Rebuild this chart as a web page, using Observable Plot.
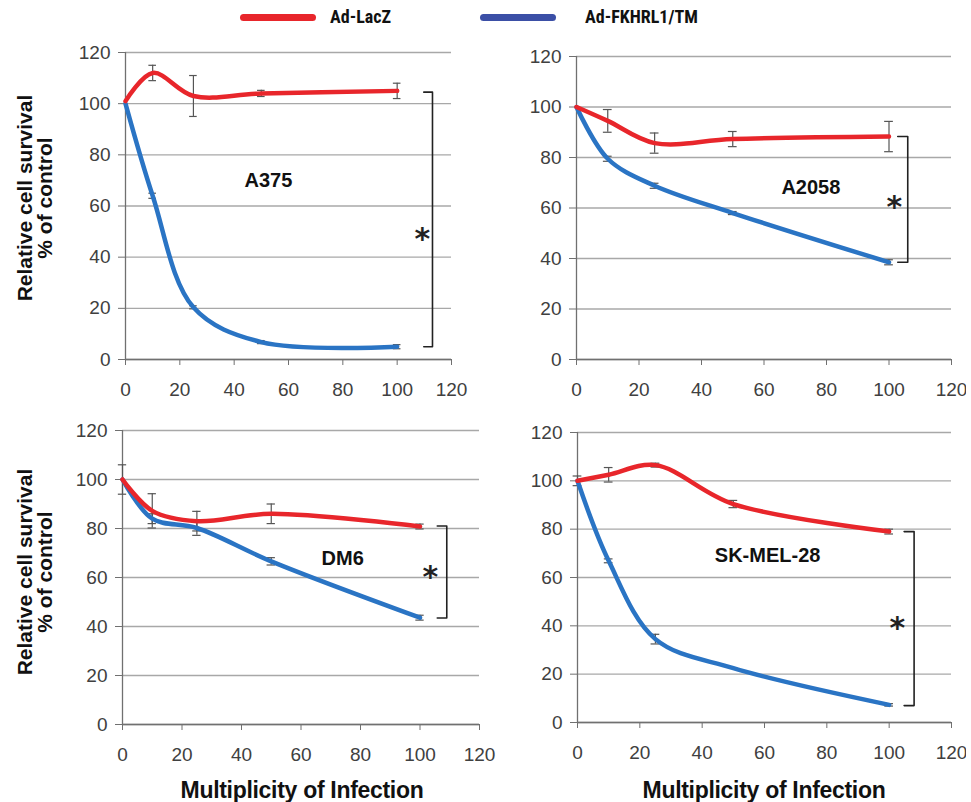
<!DOCTYPE html>
<html><head><meta charset="utf-8">
<script src="https://cdn.jsdelivr.net/npm/d3@7"></script>
<script src="https://cdn.jsdelivr.net/npm/@observablehq/plot@0.6"></script>
<style>
body{margin:0;background:#fff;font-family:"Liberation Sans",Arial,sans-serif;}
#wrap{position:relative;width:971px;height:802px;overflow:hidden;}
.pan{position:absolute;}
.lab{position:absolute;font-weight:bold;font-size:23px;color:#111;white-space:nowrap;letter-spacing:-0.3px;}
.ylab{position:absolute;font-weight:bold;font-size:21px;color:#111;white-space:nowrap;transform:translate(-50%,-50%) rotate(-90deg);text-align:center;line-height:20px;}
.leg{position:absolute;font-weight:bold;font-size:18px;font-family:"Liberation Sans Narrow","Roboto Condensed",Roboto,sans-serif;color:#111;}
.sw{position:absolute;height:7px;border-radius:4px;}
</style></head><body>
<div id="wrap"></div>
<script>
// ---- data ----
const moi = [0, 10, 25, 50, 100];
const xTicks = [0, 20, 40, 60, 80, 100, 120];
const yTicks = [0, 20, 40, 60, 80, 100, 120];
const seriesNames = ["Ad-LacZ", "Ad-FKHRL1/TM"];
const seriesColors = ["#e8262b", "#2a74c4"];
const legendColors = ["#e8262b", "#3b4fa6"];

const panelNames = ["A375", "A2058", "DM6", "SK-MEL-28"];

const a375LacZ = [101, 112, 103, 104, 105];
const a375LacZErr = [0, 3, 8, 1.2, 3];
const a375Fkhr = [100, 64, 20.4, 6.8, 5];
const a375FkhrErr = [0, 1, 0.6, 0.6, 0.8];

const a2058LacZ = [100, 94.5, 85.7, 87.3, 88.3];
const a2058LacZErr = [0, 4.5, 4, 3, 6];
const a2058Fkhr = [100, 79.5, 68.8, 58, 38.5];
const a2058FkhrErr = [0, 1, 1, 0.6, 1];

const dm6LacZ = [100, 87.2, 83, 86, 80.8];
const dm6LacZErr = [6, 7, 4, 4, 1];
const dm6Fkhr = [100, 84, 80.2, 66.6, 43.6];
const dm6FkhrErr = [0, 2, 3, 1.5, 1];

const skLacZ = [100, 102.5, 106.5, 90.4, 79];
const skLacZErr = [2, 3, 0.8, 1.5, 1];
const skFkhr = [100, 66.9, 34.5, 22.5, 7.3];
const skFkhrErr = [0, 0.8, 2, 0, 0.5];

// label positions (data units): [x, y]
const labelPos = [[52.6, 70], [75, 68], [74, 67.6], [61, 69]];
// bracket: [x, top, bottom]
const brackets = [[113, 104.5, 5], [106, 88.3, 38.5], [109, 81, 43.5], [108, 79, 7]];
const starPos = [[109.3, 50.4], [101.7, 63.8], [103.5, 63.7], [102.6, 42.8]];

// ---- layout ----
const layouts = [
  {left: 60, top: 40, width: 411, height: 364, ml: 65, mr: 20, mt: 12, mb: 45},
  {left: 520, top: 40, width: 446, height: 364, ml: 56, mr: 15, mt: 16, mb: 45},
  {left: 60, top: 410, width: 439, height: 359, ml: 62, mr: 20, mt: 20, mb: 45},
  {left: 520, top: 410, width: 446, height: 357, ml: 57, mr: 15, mt: 22, mb: 45}
];

const lacZs = [a375LacZ, a2058LacZ, dm6LacZ, skLacZ];
const lacZErrs = [a375LacZErr, a2058LacZErr, dm6LacZErr, skLacZErr];
const fkhrs = [a375Fkhr, a2058Fkhr, dm6Fkhr, skFkhr];
const fkhrErrs = [a375FkhrErr, a2058FkhrErr, dm6FkhrErr, skFkhrErr];

const wrap = document.getElementById("wrap");

panelNames.forEach((name, i) => {
  const L = layouts[i];
  const rows = [];
  [lacZs[i], fkhrs[i]].forEach((vals, s) => {
    const errs = s === 0 ? lacZErrs[i] : fkhrErrs[i];
    vals.forEach((v, k) => rows.push({series: seriesNames[s], x: moi[k], y: v, e: errs[k]}));
  });
  const redRows = rows.filter(d => d.series === seriesNames[0]);
  const blueRows = rows.filter(d => d.series === seriesNames[1]);
  const errRows = rows.filter(d => d.e > 0);
  const capW = 1.4;
  const [bx, bt, bb] = brackets[i];
  const arm = 3.2;
  const bracketPts = [{x: bx - arm, y: bt}, {x: bx, y: bt}, {x: bx, y: bb}, {x: bx - arm, y: bb}];

  const chart = Plot.plot({
    width: L.width, height: L.height,
    marginLeft: L.ml, marginRight: L.mr, marginTop: L.mt, marginBottom: L.mb,
    style: {fontFamily: "'Liberation Sans', Arial, sans-serif", fontSize: "19px", color: "#404040", background: "transparent"},
    x: {domain: [0, 120], label: null},
    y: {domain: [0, 120], label: null},
    color: {domain: seriesNames, range: seriesColors},
    marks: [
      Plot.gridY(yTicks, {stroke: "#a8a8a8", strokeOpacity: 1, strokeWidth: 1.3}),
      Plot.ruleX([0], {y1: 0, y2: 120, stroke: "#707070", strokeWidth: 1.3}),
      Plot.ruleY([0], {x1: 0, x2: 120, stroke: "#707070", strokeWidth: 1.3}),
      Plot.axisY({ticks: yTicks, tickSize: 7, tickPadding: 8, stroke: "#707070", label: null, fill: "#404040"}),
      Plot.axisX({ticks: xTicks, tickSize: 6, tickPadding: 17, stroke: "#707070", label: null, fill: "#404040"}),
      Plot.ruleX(errRows, {x: "x", y1: d => d.y - d.e, y2: d => d.y + d.e, stroke: "#555", strokeWidth: 1.2}),
      Plot.ruleY(errRows, {y: d => d.y - d.e, x1: d => d.x - capW, x2: d => d.x + capW, stroke: "#555", strokeWidth: 1.2}),
      Plot.ruleY(errRows, {y: d => d.y + d.e, x1: d => d.x - capW, x2: d => d.x + capW, stroke: "#555", strokeWidth: 1.2}),
      Plot.line(blueRows, {x: "x", y: "y", stroke: "series", strokeWidth: 4.5, curve: "catmull-rom"}),
      Plot.line(redRows, {x: "x", y: "y", stroke: "series", strokeWidth: 4.5, curve: "catmull-rom"}),
      Plot.line(bracketPts, {x: "x", y: "y", stroke: "#222", strokeWidth: 1.6, curve: "linear"}),
      Plot.text([name], {x: labelPos[i][0], y: labelPos[i][1], text: d => d, fontWeight: "bold", fontSize: 20, fill: "#111"}),
      Plot.text(["*"], {x: starPos[i][0], y: starPos[i][1], text: d => d, fontWeight: "bold", fontSize: 30, fontFamily: "DejaVu Sans", fill: "#222", dy: 9})
    ]
  });
  const div = document.createElement("div");
  div.className = "pan";
  div.style.left = L.left + "px";
  div.style.top = L.top + "px";
  div.appendChild(chart);
  wrap.appendChild(div);
});

// y-axis labels
[[35, 198], [35, 572]].forEach(([x, y]) => {
  const d = document.createElement("div");
  d.className = "ylab";
  d.style.left = x + "px"; d.style.top = y + "px";
  d.innerHTML = "Relative cell survival<br>% of control";
  wrap.appendChild(d);
});
// x-axis labels
[[302, 790], [764, 790]].forEach(([x, y]) => {
  const d = document.createElement("div");
  d.className = "lab";
  d.style.left = x + "px"; d.style.top = y + "px";
  d.style.transform = "translate(-50%,-50%)";
  d.textContent = "Multiplicity of Infection";
  wrap.appendChild(d);
});
// legend
[[240, 330], [480, 585]].forEach(([sx, tx], s) => {
  const sw = document.createElement("div");
  sw.className = "sw";
  sw.style.left = sx + "px"; sw.style.top = "14px"; sw.style.width = "76px";
  sw.style.background = legendColors[s];
  wrap.appendChild(sw);
  const t = document.createElement("div");
  t.className = "leg";
  t.style.left = tx + "px"; t.style.top = "6px";
  t.textContent = seriesNames[s];
  wrap.appendChild(t);
});
</script>
</body></html>
